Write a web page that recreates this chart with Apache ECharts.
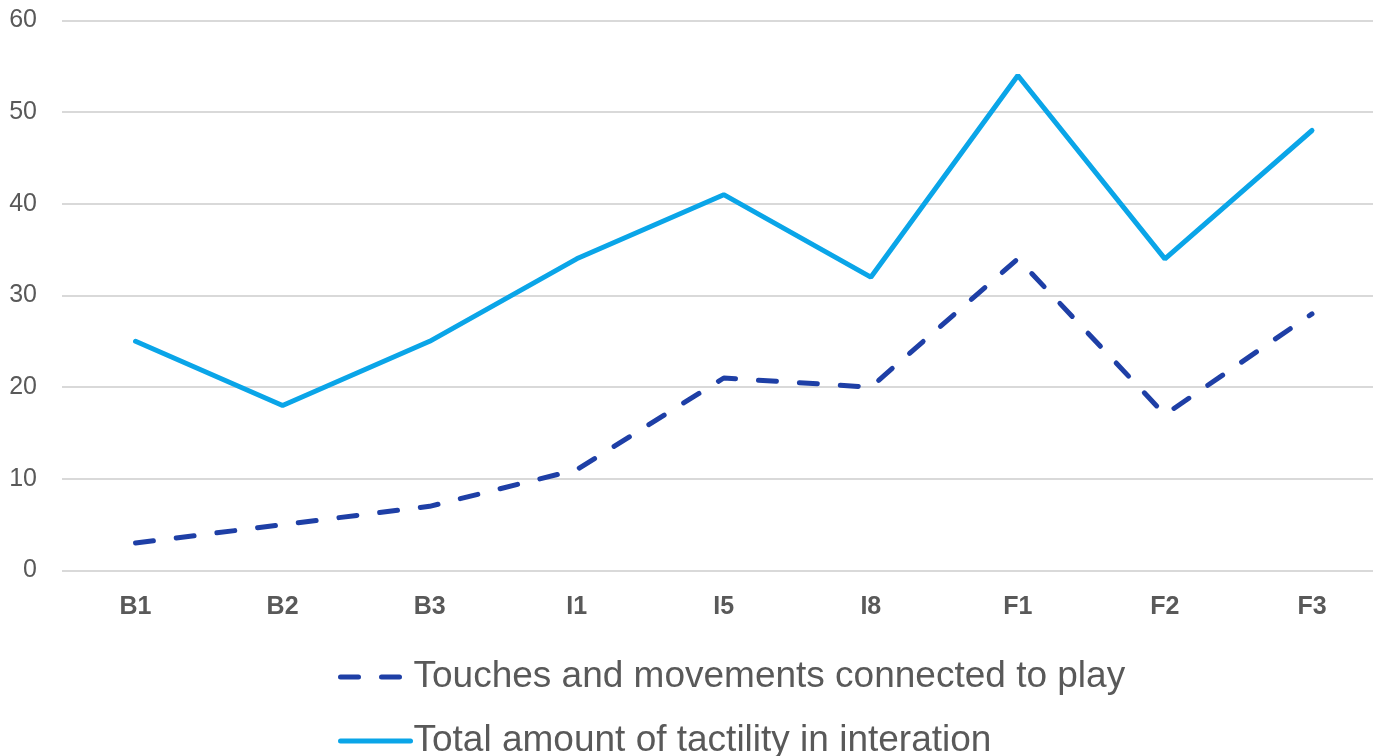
<!DOCTYPE html>
<html><head><meta charset="utf-8">
<script src="https://cdn.jsdelivr.net/npm/echarts@6/dist/echarts.min.js"></script>
<style>html,body{margin:0;padding:0;background:#fff;overflow:hidden}#c{width:1373px;height:756px}</style>
</head><body><div id="c"></div>
<script>
const categories = ['B1','B2','B3','I1','I5','I8','F1','F2','F3'];
const touches = [3,5,7,11,21,20,34,17,28];
const total = [25,18,25,34,41,32,54,34,48];
const seriesNames = ['Touches and movements connected to play','Total amount of tactility in interation'];
const FONT = '"Liberation Sans Narrow","Arial Narrow","Liberation Sans",Arial,sans-serif';
const DARK = '#1E3FA6', LIGHT = '#0AA5E8';
const chart = echarts.init(document.getElementById('c'));
chart.setOption({
  animation:false,
  grid:{left:62,right:-12.5,top:20.5,bottom:185.5,containLabel:false,outerBoundsMode:'none'},
  xAxis:{type:'category',data:categories,boundaryGap:true,
    axisLine:{show:false},axisTick:{show:false},
    axisLabel:{fontFamily:FONT,fontSize:25,fontWeight:'bold',color:'#595959',margin:24}},
  yAxis:{type:'value',min:0,max:60,interval:10,
    axisLine:{show:false},axisTick:{show:false},
    splitLine:{lineStyle:{color:'#d9d9d9',width:2}},
    axisLabel:{fontFamily:FONT,fontSize:25,color:'#595959',margin:25}},
  legend:{orient:'vertical',left:333,top:650,height:160,itemWidth:70,itemHeight:14,itemGap:20,
    textStyle:{fontFamily:FONT,fontSize:37,lineHeight:44,color:'#595959',padding:[0,0,0,-2]},
    data:[
      {name:seriesNames[0],itemStyle:{opacity:0},lineStyle:{color:DARK,width:5,type:[18,23],cap:'round'}},
      {name:seriesNames[1],itemStyle:{opacity:0},lineStyle:{color:LIGHT,width:5,type:'solid',cap:'round'}}
    ]},
  series:[
    {name:seriesNames[0],type:'line',data:touches,symbol:'none',
      lineStyle:{color:DARK,width:5,type:[18,23],cap:'round'},itemStyle:{color:DARK}},
    {name:seriesNames[1],type:'line',data:total,symbol:'none',
      lineStyle:{color:LIGHT,width:5,cap:'round'},itemStyle:{color:LIGHT}}
  ]
});
</script></body></html>
